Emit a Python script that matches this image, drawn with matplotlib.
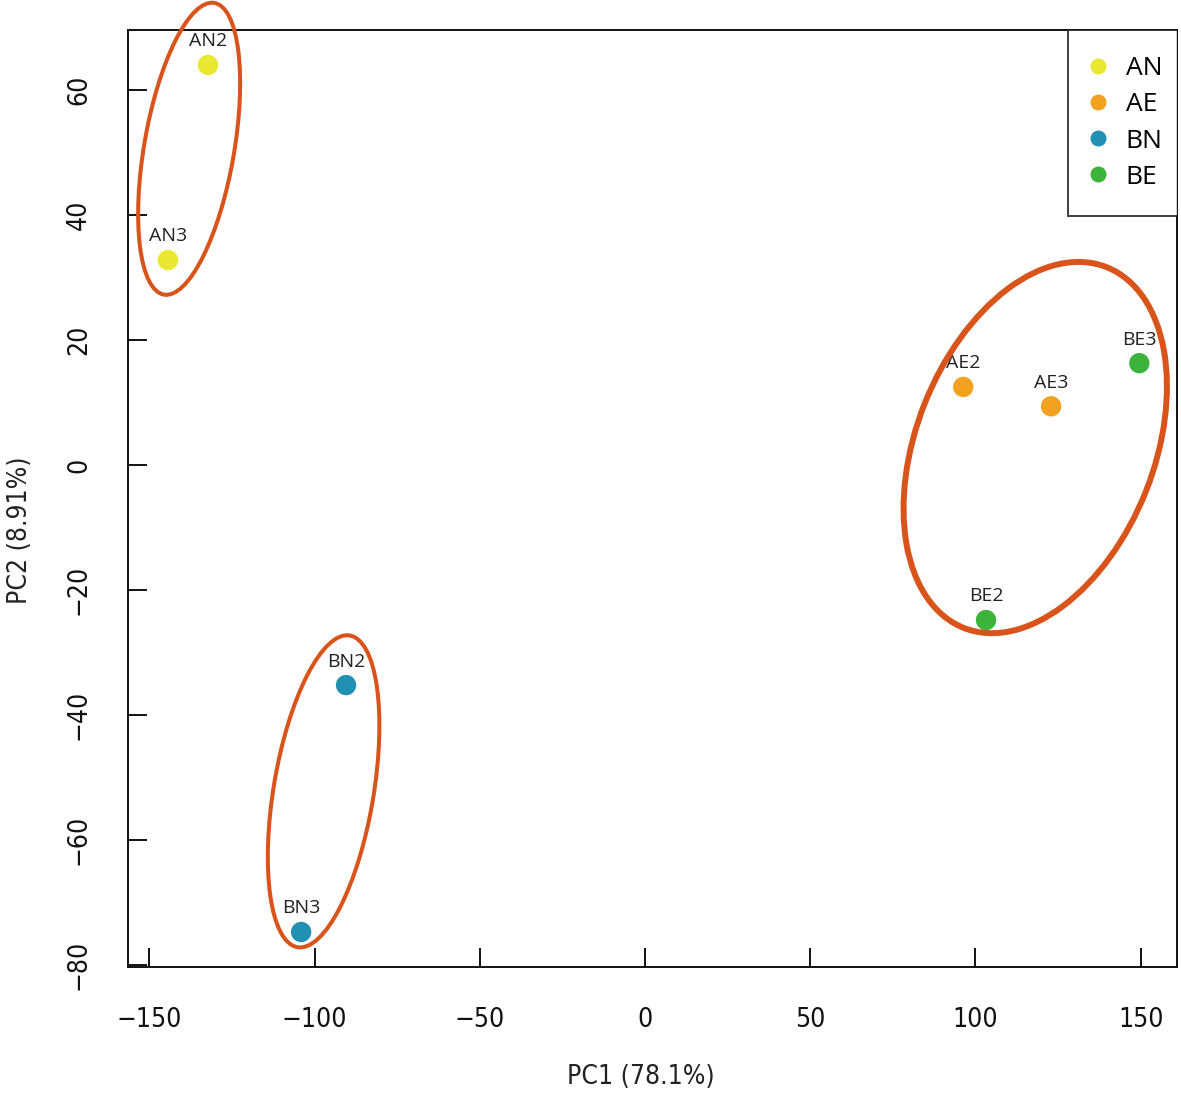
import matplotlib
matplotlib.use("Agg")
import matplotlib.pyplot as plt
from matplotlib.patches import Ellipse
from matplotlib.lines import Line2D
from matplotlib.transforms import ScaledTranslation
from matplotlib import font_manager

# sample scores
samples = ["AN2", "AN3", "AE2", "AE3", "BN2", "BN3", "BE2", "BE3"]
groups = ["AN", "AN", "AE", "AE", "BN", "BN", "BE", "BE"]
pc1 = [-132.3, -144.4, 96.3, 122.9, -90.5, -104.1, 103.2, 149.6]
pc2 = [64.0, 32.8, 12.5, 9.4, -35.2, -74.7, -24.8, 16.3]

group_names = ["AN", "AE", "BN", "BE"]
group_colors = ["#e8e833", "#f2a21f", "#2190b3", "#3cb43c"]

x_ticks = [-150, -100, -50, 0, 50, 100, 150]
y_ticks = [-80, -60, -40, -20, 0, 20, 40, 60]

# cluster ellipses: center (data), semi axes (px), angle (deg), width
ell_cx = [-138.0, -97.3, 118.1]
ell_cy = [50.6, -52.2, 2.8]
ell_a = [148, 158, 194]
ell_b = [45, 50, 119]
ell_ang = [80.2, 80.5, 68.4]
ell_lw = [2.9, 2.9, 4.3]

names = {f.name for f in font_manager.fontManager.ttflist}
if "Liberation Sans Narrow" in names:
    narrow = dict(family="Liberation Sans Narrow")
else:
    narrow = dict(family="DejaVu Sans", stretch="condensed")

fig = plt.figure(figsize=(11.81, 10.95), dpi=100)
ax = fig.add_axes([0.1084, 0.1169, 0.9966 - 0.1084, 0.9726 - 0.1169])
ax.set_xlim(-156.5, 161.0)
ax.set_ylim(-80.3, 69.6)

col = dict(zip(group_names, group_colors))
for x, y, g, name in zip(pc1, pc2, groups, samples):
    ax.scatter(x, y, s=215, color=col[g], edgecolors="none", zorder=3)
    ax.annotate(name, (x, y), xytext=(0, 10.5), textcoords="offset points",
                ha="center", va="bottom", fontsize=14, color="#222222",
                family="Open Sans", zorder=4)

for cx, cy, a, b, ang, lw in zip(ell_cx, ell_cy, ell_a, ell_b, ell_ang, ell_lw):
    tr = fig.dpi_scale_trans + ScaledTranslation(cx, cy, ax.transData)
    e = Ellipse((0, 0), 2 * a / 100, 2 * b / 100, angle=ang, transform=tr,
                fill=False, edgecolor="#d9541a", linewidth=lw, zorder=5,
                clip_on=False)
    ax.add_patch(e)

ax.set_xticks(x_ticks)
ax.set_yticks(y_ticks)
ax.set_xticklabels([str(v).replace("-", "\u2212") for v in x_ticks], **narrow)
ax.set_yticklabels([str(v).replace("-", "\u2212") for v in y_ticks], rotation=90,
                   va="center", **narrow)
ax.tick_params(axis="both", direction="in", length=14, width=1.4, labelsize=19,
               colors="#111111")
ax.tick_params(axis="x", pad=29)
ax.tick_params(axis="y", pad=26)
for s in ax.spines.values():
    s.set_linewidth(1.4)
    s.set_color("#111111")

ax.set_xlabel("PC1 (78.1%)", fontsize=19, color="#222222", va="center", **narrow)
ax.set_ylabel("PC2 (8.91%)", fontsize=19, color="#222222", va="center", **narrow)
ax.xaxis.set_label_coords(0.489, -0.117)
ax.yaxis.set_label_coords(-0.103, 0.466)

handles = [Line2D([], [], marker="o", linestyle="none", markersize=11.5,
                  markerfacecolor=c, markeredgecolor="none") for c in group_colors]
# right side of the legend box runs past the axes; clip it so the spine closes it
leg = ax.legend(handles, group_names, loc="upper right",
                bbox_to_anchor=(1.0115, 1.0), borderaxespad=0,
                frameon=True, fancybox=False, edgecolor="#111111",
                handletextpad=0.94, labelspacing=0.42, borderpad=1.0,
                handlelength=0.25, prop={"family": "Open Sans", "size": 19})
leg.get_frame().set_linewidth(1.4)
leg.get_frame().set_clip_box(ax.bbox)
leg.get_frame().set_clip_on(True)

fig.savefig("out.png", dpi=100)
